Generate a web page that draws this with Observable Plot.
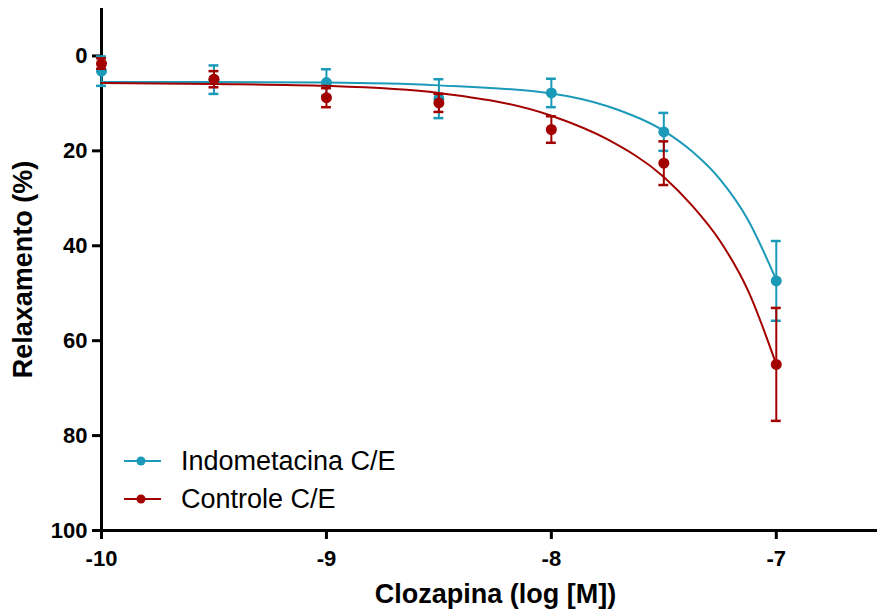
<!DOCTYPE html>
<html><head><meta charset="utf-8">
<script src="https://cdn.jsdelivr.net/npm/d3@7"></script>
<script src="https://cdn.jsdelivr.net/npm/@observablehq/plot@0.6"></script>
<style>
body{margin:0;background:#fff;}
#wrap{position:relative;width:877px;height:611px;font-family:"Liberation Sans",Arial,sans-serif;}
#legend{position:absolute;left:0;top:0;pointer-events:none;}
</style></head><body><div id="wrap"></div>
<script>
// Data
const logConc = [-10, -9.5, -9, -8.5, -8, -7.5, -7];
const indoMean = [3.2, 5.0, 5.6, 9.0, 7.8, 16.0, 47.4];
const indoSem = [3.1, 3.0, 2.8, 4.1, 3.0, 4.0, 8.4];
const ctrlMean = [1.6, 4.9, 8.8, 9.9, 15.5, 22.6, 65.0];
const ctrlSem = [1.1, 1.7, 2.0, 1.9, 2.8, 4.6, 11.9];
// Fitted curves
const curveX = [-10, -9.5, -9, -8.5, -8, -7.75, -7.5, -7.375, -7.25, -7.125, -7];
const indoCurve = [5.5, 5.5, 5.6, 6.2, 7.9, 10.6, 15.8, 20.1, 26, 34.6, 47.2];
const ctrlCurve = [5.7, 5.9, 6.3, 7.8, 12.6, 17.6, 25.5, 31.5, 39, 49.5, 65];
const seriesNames = ["Indometacina C/E", "Controle C/E"];
const seriesColors = ["#1a9ab8", "#a30000"];
const xTicks = [-10, -9, -8, -7];
const yTicks = [0, 20, 40, 60, 80, 100];
const xTitle = "Clozapina (log [M])";
const yTitle = "Relaxamento (%)";

const means = [indoMean, ctrlMean];
const sems = [indoSem, ctrlSem];
const curves = [indoCurve, ctrlCurve];
const capHalf = 0.022;

const marks = [];
seriesNames.forEach((name, s) => {
  const pts = logConc.map((x, i) => ({x, y: means[s][i], lo: means[s][i] - sems[s][i], hi: means[s][i] + sems[s][i]}));
  const cur = curveX.map((x, i) => ({x, y: curves[s][i]}));
  const color = seriesColors[s];
  marks.push(Plot.line(cur, {x: "x", y: "y", stroke: color, strokeWidth: 2, curve: "monotone-x"}));
  marks.push(Plot.ruleX(pts, {x: "x", y1: "lo", y2: "hi", stroke: color, strokeWidth: 2}));
  marks.push(Plot.ruleY(pts, {y: "lo", x1: d => d.x - capHalf, x2: d => d.x + capHalf, stroke: color, strokeWidth: 2.5}));
  marks.push(Plot.ruleY(pts, {y: "hi", x1: d => d.x - capHalf, x2: d => d.x + capHalf, stroke: color, strokeWidth: 2.5}));
  marks.push(Plot.dot(pts, {x: "x", y: "y", r: 5.5, fill: color, stroke: "none"}));
});

const chart = Plot.plot({
  width: 877,
  height: 611,
  marginLeft: 101,
  marginRight: 0,
  marginTop: 8,
  marginBottom: 81,
  style: {fontFamily: '"Liberation Sans", Arial, sans-serif', background: "#fff", color: "#000"},
  x: {domain: [-10, -6.55]},
  y: {domain: [-10, 100], reverse: true},
  marks: [
    Plot.axisX(xTicks, {tickSize: 9, tickPadding: 11, fontSize: 22, fontWeight: "bold", strokeWidth: 3, label: null, tickFormat: d => String(d)}),
    Plot.axisY(yTicks, {tickSize: 9, tickPadding: 5, fontSize: 22, fontWeight: "bold", strokeWidth: 3, label: null, tickFormat: d => String(d)}),
    Plot.ruleX([-10], {stroke: "#000", strokeWidth: 3}),
    Plot.ruleY([100], {stroke: "#000", strokeWidth: 3}),
    Plot.text([xTitle], {text: d => d, frameAnchor: "bottom", textAnchor: "middle", dx: 6, dy: 64, lineAnchor: "middle", fontSize: 27, fontWeight: "bold", fill: "#000"}),
    Plot.text([yTitle], {text: d => d, frameAnchor: "left", textAnchor: "middle", dx: -78, dy: 0, rotate: -90, lineAnchor: "middle", fontSize: 27, fontWeight: "bold", fill: "#000"}),
    ...marks
  ]
});
const wrap = document.getElementById("wrap");
wrap.appendChild(chart);

// Legend overlay
const ns = "http://www.w3.org/2000/svg";
const leg = document.createElementNS(ns, "svg");
leg.setAttribute("id", "legend");
leg.setAttribute("width", 877);
leg.setAttribute("height", 611);
const legRows = [461, 499];
seriesNames.forEach((name, s) => {
  const cy = legRows[s];
  const line = document.createElementNS(ns, "line");
  line.setAttribute("x1", 124); line.setAttribute("x2", 161);
  line.setAttribute("y1", cy); line.setAttribute("y2", cy);
  line.setAttribute("stroke", seriesColors[s]); line.setAttribute("stroke-width", 2);
  leg.appendChild(line);
  const c = document.createElementNS(ns, "circle");
  c.setAttribute("cx", 141); c.setAttribute("cy", cy); c.setAttribute("r", 4.5);
  c.setAttribute("fill", seriesColors[s]);
  leg.appendChild(c);
  const t = document.createElementNS(ns, "text");
  t.setAttribute("x", 181); t.setAttribute("y", cy + 8.5);
  t.setAttribute("font-size", 27);
  t.setAttribute("font-family", '"Liberation Sans", Arial, sans-serif');
  t.setAttribute("fill", "#000");
  t.textContent = name;
  leg.appendChild(t);
});
wrap.appendChild(leg);
</script>
</body></html>
